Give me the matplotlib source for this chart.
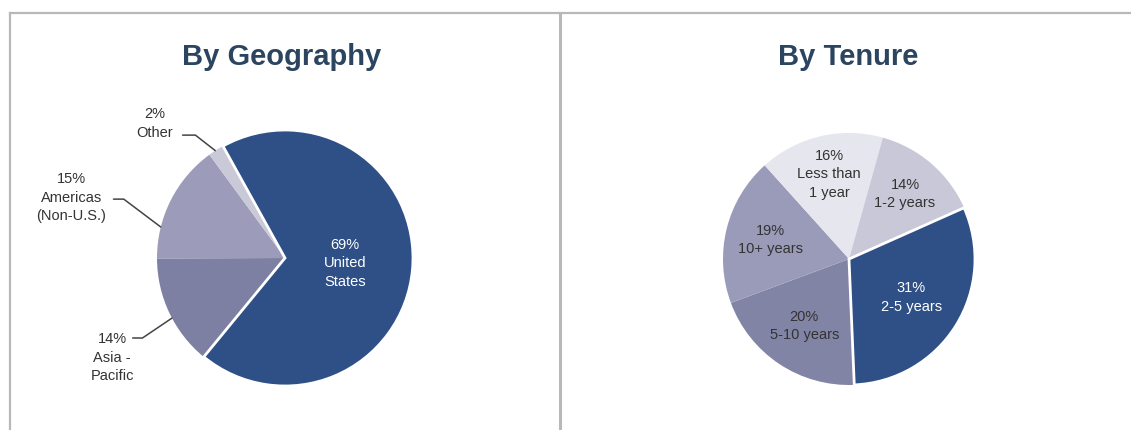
"""Two pie charts: workforce by geography and by tenure."""

import matplotlib

matplotlib.use("Agg")
import matplotlib.pyplot as plt
import numpy as np

W, H = 1131, 430

geo_labels = ["United\nStates", "Asia -\nPacific", "Americas\n(Non-U.S.)", "Other"]
geo_values = [69, 14, 15, 2]
geo_colors = ["#2e5086", "#7e80a3", "#9c9cba", "#c9c9d8"]

tenure_labels = ["2-5 years", "5-10 years", "10+ years", "Less than\n1 year", "1-2 years"]
tenure_values = [31, 20, 19, 16, 14]
tenure_colors = ["#2e5086", "#8284a6", "#9a9bb8", "#e6e6ee", "#c8c8d8"]

TITLE_COLOR = "#2b4560"
TEXT_COLOR = "#333333"
FONT = "Liberation Sans"

plt.rcParams["font.family"] = [FONT, "DejaVu Sans"]


def pie_axes(fig, cx, cy, r, half=2.3):
    # square axes in pixels so that one data unit == pie radius
    ax = fig.add_axes([(cx - half * r) / W, (H - cy - half * r) / H,
                       2 * half * r / W, 2 * half * r / H])
    return ax


def draw_pie(ax, values, colors, startangle, half=2.3):
    wedges, _ = ax.pie(values, colors=colors, startangle=startangle,
                       counterclock=False, radius=1.0,
                       wedgeprops=dict(linewidth=0))
    for w, c in zip(wedges, colors):
        if c == "#2e5086":
            w.set_edgecolor("white")
            w.set_linewidth(2)
            w.set_zorder(3)
    ax.set_xlim(-half, half)
    ax.set_ylim(-half, half)
    ax.axis("off")
    return wedges


def inner_label(ax, wedge, text, dist, color):
    mid = np.deg2rad((wedge.theta1 + wedge.theta2) / 2)
    ax.text(dist * np.cos(mid), dist * np.sin(mid), text, ha="center", va="center",
            fontsize=10.5, color=color, linespacing=1.4, zorder=5)


fig = plt.figure(figsize=(W / 100, H / 100), dpi=100)

# panel frame
line_kw = dict(color="#b8b8b8", lw=1.6, transform=fig.transFigure)
fig.add_artist(plt.Line2D([10 / W, 1], [1 - 13 / H, 1 - 13 / H], **line_kw))
fig.add_artist(plt.Line2D([10 / W, 10 / W], [0, 1 - 13 / H], **line_kw))
fig.add_artist(plt.Line2D([560 / W, 560 / W], [0, 1 - 13 / H], lw=2.2,
                          color="#b8b8b8", transform=fig.transFigure))

fig.text(282 / W, 1 - 57 / H, "By Geography", ha="center", va="center",
         fontsize=21, fontweight="bold", color=TITLE_COLOR)
fig.text(848 / W, 1 - 57 / H, "By Tenure", ha="center", va="center",
         fontsize=21, fontweight="bold", color=TITLE_COLOR)

# --- geography ---
ax1 = pie_axes(fig, 285, 258, 128)
geo_wedges = draw_pie(ax1, geo_values, geo_colors, startangle=119)
inner_label(ax1, geo_wedges[0], f"{geo_values[0]}%\n{geo_labels[0]}", 0.47, "white")

# outside labels: (text pos, leader start, edge angle, leader angle)
outside = {
    1: ((-1.35, -0.78), (-1.19, -0.625), 208, 34),
    2: ((-1.67, 0.47), (-1.34, 0.46), 166, -37),
    3: ((-1.02, 1.05), (-0.80, 0.96), 123, -38),
}
for i, (tpos, start, edge_ang, lead_ang) in outside.items():
    ax1.text(*tpos, f"{geo_values[i]}%\n{geo_labels[i]}", ha="center", va="center",
             fontsize=10.5, color=TEXT_COLOR, linespacing=1.4)
    a = np.deg2rad(edge_ang)
    ax1.annotate("", xy=(np.cos(a), np.sin(a)), xytext=start,
                 arrowprops=dict(arrowstyle="-", color="#444444", lw=1.1,
                                 shrinkA=0, shrinkB=0,
                                 connectionstyle=f"angle,angleA=0,angleB={lead_ang},rad=0"))

# --- tenure ---
ax2 = pie_axes(fig, 849, 259, 126)
ten_wedges = draw_pie(ax2, tenure_values, tenure_colors, startangle=24)
ten_dist = [0.58, 0.64, 0.64, 0.69, 0.68]
for w, v, lab, d, c in zip(ten_wedges, tenure_values, tenure_labels, ten_dist, tenure_colors):
    inner_label(ax2, w, f"{v}%\n{lab}", d, "white" if c == "#2e5086" else TEXT_COLOR)

fig.savefig("out.png", dpi=100)
